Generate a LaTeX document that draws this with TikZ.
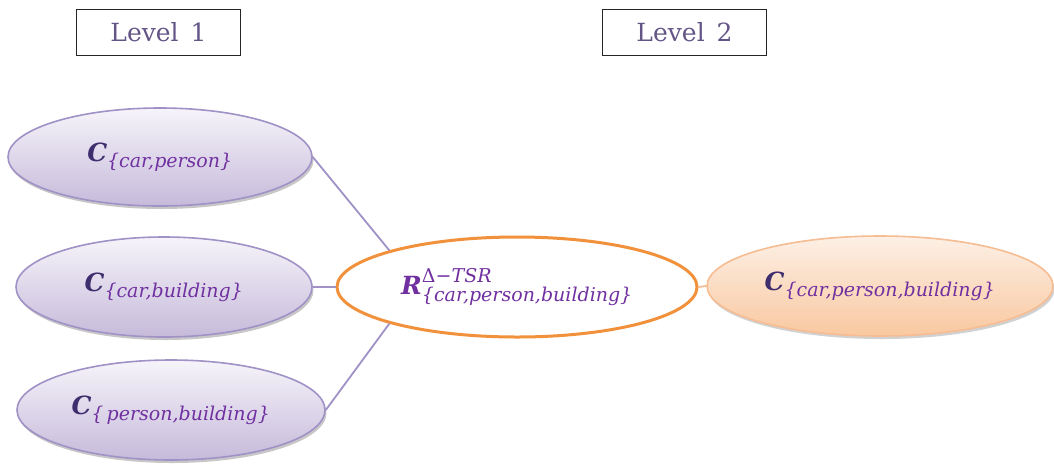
\documentclass[tikz,border=0pt]{standalone}
\usepackage{fontspec}
\usepackage{amsmath}
\usetikzlibrary{shapes.geometric,shadows}
\newfontfamily\cmb{DejaVu Serif}
\DeclareMathSizes{25}{25}{19}{14}
\definecolor{cdark}{RGB}{62,46,110}
\definecolor{cpurp}{RGB}{112,48,160}
\definecolor{lvl}{RGB}{100,85,135}
\definecolor{lilacline}{RGB}{160,145,198}
\definecolor{lilactop}{RGB}{246,244,250}
\definecolor{lilacbot}{RGB}{198,186,218}
\definecolor{orline}{RGB}{242,145,60}
\definecolor{peachline}{RGB}{246,188,146}
\definecolor{peachtop}{RGB}{253,240,230}
\definecolor{peachbot}{RGB}{249,200,160}
\newcommand\Cset[1]{$\text{\cmb\bfseries\itshape\color{cdark}C}_{\text{\cmb\itshape\color{cpurp}\{#1\}}}$}
\tikzset{
  levelbox/.style={draw=black!85, line width=1.6pt, minimum width=164pt, minimum height=46pt, inner sep=0pt, text=lvl, font=\cmb\fontsize{25}{28}\selectfont},
  lilac/.style={ellipse, draw=lilacline, line width=1.6pt, top color=lilactop, bottom color=lilacbot, inner sep=0pt, font=\fontsize{25}{28}\selectfont,
    drop shadow={shadow xshift=1.5pt, shadow yshift=-3pt, fill=black, opacity=0.22}},
  peach/.style={ellipse, draw=peachline, line width=1.6pt, top color=peachtop, bottom color=peachbot, inner sep=0pt, font=\fontsize{25}{28}\selectfont,
    drop shadow={shadow xshift=1.5pt, shadow yshift=-3pt, fill=black, opacity=0.18}},
  relnode/.style={ellipse, draw=orline, line width=3pt, fill=white, inner sep=0pt, font=\fontsize{25}{28}\selectfont},
  lilaclink/.style={draw=lilacline, line width=1.8pt},
  peachlink/.style={draw=peachline, line width=1.8pt}
}
\begin{document}
\begin{tikzpicture}[x=1pt,y=-1pt]
\useasboundingbox (0,0) rectangle (1054,467);
\node[levelbox] (l1) at (158.5,32.5) {Level\hspace{4pt} 1};
\node[levelbox] (l2) at (684.5,32.5) {Level\hspace{4pt} 2};
\node[lilac, minimum width=304pt, minimum height=98pt] (e1) at (160,157) {\Cset{car,person}};
\node[lilac, minimum width=296pt, minimum height=100pt] (e2) at (164,287) {\Cset{car,building}};
\node[lilac, minimum width=308pt, minimum height=100pt] (e3) at (171,410) {\Cset{\,person,building}};
\node[relnode, minimum width=360pt, minimum height=100pt] (r) at (517,287)
  {$\text{\cmb\bfseries\itshape\color{cpurp}R}^{\text{\cmb\color{cpurp}Δ−\itshape TSR}}_{\text{\cmb\itshape\color{cpurp}\{car,person,building\}}}$};
\node[peach, minimum width=346pt, minimum height=100pt] (e4) at (880,286) {\Cset{car,person,building}};
\draw[lilaclink] (e1.east) -- (r.164);
\draw[lilaclink] (e2.east) -- (r.west);
\draw[lilaclink] (e3.east) -- (r.196);
\draw[peachlink] (r.east) -- (e4.west);
\end{tikzpicture}
\end{document}
